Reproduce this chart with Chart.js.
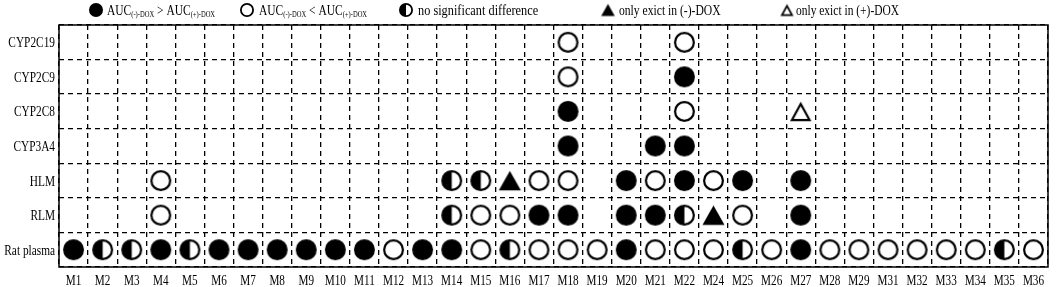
<!DOCTYPE html>
<html>
<head>
<meta charset="utf-8">
<script src="https://cdn.jsdelivr.net/npm/chart.js@4.4.0/dist/chart.umd.min.js"></script>
<style>
  html, body { margin: 0; padding: 0; background: #fff; }
  #wrap { width: 1059px; height: 287px; position: relative; }
</style>
</head>
<body>
<div id="wrap"><canvas id="grid"></canvas></div>
<script>
const columns = ['M1','M2','M3','M4','M5','M6','M7','M8','M9','M10','M11','M12','M13','M14','M15','M16',
  'M17','M18','M19','M20','M21','M22','M24','M25','M26','M27','M28','M29','M31','M32','M33','M34','M35','M36'];
const rows = ['CYP2C19','CYP2C9','CYP2C8','CYP3A4','HLM','RLM','Rat plasma'];

// one char per column: F = AUC(-) > AUC(+), O = AUC(-) < AUC(+), H = no significant difference,
// T = only in (-)-DOX, t = only in (+)-DOX, . = nothing
const cyp2c19   = '.................O...O............';
const cyp2c9    = '.................O...F............';
const cyp2c8    = '.................F...O...t........';
const cyp3a4    = '.................F..FF............';
const hlm       = '...O.........HHTOO.FOFOF.F........';
const rlm       = '...O.........HOOFF.FFHTO.F........';
const ratPlasma = 'FHHFHFFFFFFOFFOHOOOFOOOHOFOOOOOOHO';
const rowCodes = [cyp2c19, cyp2c9, cyp2c8, cyp3a4, hlm, rlm, ratPlasma];

const symbolCodes = ['F', 'O', 'H', 'T', 't'];
const legendLabels = [
  [['AUC'], ['(-)-DOX', 1], [' > AUC'], ['(+)-DOX', 1]],
  [['AUC'], ['(-)-DOX', 1], [' < AUC'], ['(+)-DOX', 1]],
  [['no significant difference']],
  [['only exict in (-)-DOX']],
  [['only exict in (+)-DOX']]
];

const FONT = '"Liberation Serif", "Times New Roman", serif';

// draw a marker into its own small canvas, centred on its bounding box
function icon(code, d) {
  const s = Math.ceil(d + 4);
  const c = document.createElement('canvas');
  c.width = c.height = s;
  const g = c.getContext('2d');
  const m = s / 2;
  g.fillStyle = '#000';
  g.strokeStyle = '#000';
  g.lineWidth = d > 16 ? 2.2 : 1.8;
  if (code === 'F') {
    g.beginPath(); g.arc(m, m, d / 2, 0, Math.PI * 2); g.fill();
  } else if (code === 'O' || code === 'H') {
    const r = d / 2 - g.lineWidth / 2;
    g.beginPath(); g.arc(m, m, r, 0, Math.PI * 2);
    g.fillStyle = '#fff'; g.fill();
    if (code === 'H') {
      g.beginPath(); g.arc(m, m, r, Math.PI / 2, Math.PI * 1.5); g.closePath();
      g.fillStyle = '#000'; g.fill();
    }
    g.beginPath(); g.arc(m, m, r, 0, Math.PI * 2); g.stroke();
  } else {
    const w = d * 1.05, h = d * 0.92, inset = code === 't' ? g.lineWidth : 0;
    g.beginPath();
    g.moveTo(m, m - h / 2 + inset);
    g.lineTo(m + w / 2 - inset, m + h / 2 - inset / 2);
    g.lineTo(m - w / 2 + inset, m + h / 2 - inset / 2);
    g.closePath();
    if (code === 'T') { g.fill(); }
    else { g.fillStyle = '#fff'; g.fill(); g.lineJoin = 'miter'; g.stroke(); }
  }
  return c;
}

// the source figure uses a horizontally squeezed Times face
function squeezedText(ctx, text, x, y, align, sx) {
  ctx.save();
  ctx.translate(x, y);
  ctx.scale(sx, 1);
  ctx.textAlign = align;
  ctx.fillText(text, 0, 0);
  ctx.restore();
}

const datasets = symbolCodes.map(code => {
  const data = [];
  rowCodes.forEach((str, r) => {
    str.split('').forEach((ch, i) => {
      if (ch === code) data.push({ x: columns[i], y: rows[r] });
    });
  });
  return { data, pointStyle: icon(code, 21), pointRadius: 10, pointHoverRadius: 10 };
});

const framePlugin = {
  id: 'frame',
  beforeDatasetsDraw(chart) {
    const { ctx, chartArea: a } = chart;
    ctx.save();
    ctx.strokeStyle = '#000';
    ctx.lineWidth = 1.5;
    ctx.strokeRect(a.left, a.top, a.right - a.left, a.bottom - a.top);
    ctx.restore();
  }
};

const tickLabelPlugin = {
  id: 'tickLabels',
  afterDraw(chart) {
    const { ctx, scales: { x, y } } = chart;
    ctx.save();
    ctx.fillStyle = '#000';
    ctx.font = '14px ' + FONT;
    ctx.textBaseline = 'alphabetic';
    x.ticks.forEach((t, i) => {
      squeezedText(ctx, x.getLabelForValue(t.value), x.getPixelForTick(i), 285, 'center', 0.8);
    });
    y.ticks.forEach((t, i) => {
      squeezedText(ctx, y.getLabelForValue(t.value), 55, y.getPixelForTick(i) + 5, 'right', 0.81);
    });
    ctx.restore();
  }
};

const legendPlugin = {
  id: 'symbolLegend',
  afterDraw(chart) {
    const ctx = chart.ctx;
    const iconX = [96, 247, 406, 608, 787];
    const textX = [107, 259, 418, 619, 796];
    const squeeze = [0.82, 0.82, 0.88, 0.83, 0.82];
    ctx.save();
    ctx.fillStyle = '#000';
    ctx.textBaseline = 'alphabetic';
    symbolCodes.forEach((code, k) => {
      const img = icon(code, code === 'T' || code === 't' ? 13 : 14);
      ctx.drawImage(img, iconX[k] - img.width / 2, 10 - img.height / 2);
      let x = textX[k];
      legendLabels[k].forEach(([txt, sub]) => {
        ctx.font = sub ? '8px ' + FONT : '14px ' + FONT;
        squeezedText(ctx, txt, x, sub ? 16.5 : 14.5, 'left', squeeze[k]);
        x += ctx.measureText(txt).width * squeeze[k];
      });
    });
    ctx.restore();
  }
};

new Chart(document.getElementById('grid'), {
  type: 'scatter',
  data: { datasets },
  options: {
    responsive: true,
    maintainAspectRatio: false,
    animation: false,
    events: [],
    layout: { padding: { top: 25, right: 10, left: 0, bottom: 0 } },
    plugins: { legend: { display: false }, tooltip: { enabled: false } },
    scales: {
      x: {
        type: 'category',
        labels: columns,
        offset: true,
        grid: { offset: true, drawTicks: false, color: '#000', lineWidth: 1.3 },
        border: { display: false, dash: [5, 4] },
        ticks: { display: false },
        afterFit: s => { s.height = 20; }
      },
      y: {
        type: 'category',
        labels: rows,
        offset: true,
        grid: { offset: true, drawTicks: false, color: '#000', lineWidth: 1.3 },
        border: { display: false, dash: [5, 4] },
        ticks: { display: false },
        afterFit: s => { s.width = 59; }
      }
    }
  },
  plugins: [framePlugin, tickLabelPlugin, legendPlugin]
});
</script>
</body>
</html>
